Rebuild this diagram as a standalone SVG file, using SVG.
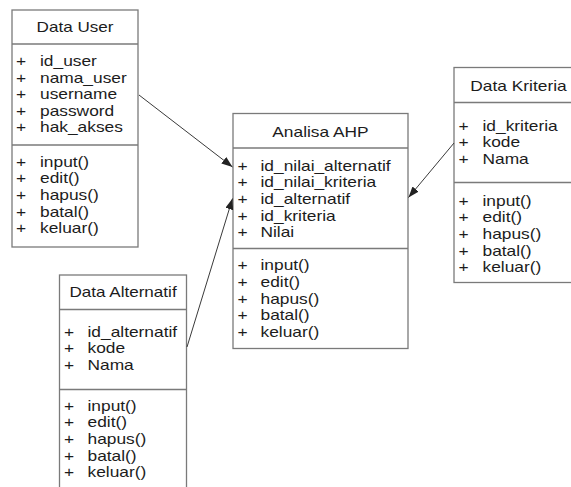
<svg xmlns="http://www.w3.org/2000/svg" width="571" height="487" viewBox="0 0 571 487">
  <style>
    .box { fill: #ffffff; stroke: #7a7a7a; stroke-width: 1.3; }
    .sep { stroke: #7a7a7a; stroke-width: 1.3; }
    text { font-family: "Liberation Sans", Arial, sans-serif; font-size: 14px; fill: #1c1c1c; }
    .title { text-anchor: middle; }
    .link { stroke: #3a3a3a; stroke-width: 1; fill: none; marker-end: url(#arrow); }
  </style>
  <defs>
    <marker id="arrow" markerUnits="userSpaceOnUse" markerWidth="12" markerHeight="10" refX="11" refY="4" orient="auto">
      <path d="M0,0 L11,4 L0,8 Z" fill="#222222"/>
    </marker>
  </defs>
  <rect width="571" height="487" fill="#ffffff"/>

  <!-- class: Data User -->
  <g id="data-user">
    <rect class="box" x="12" y="10" width="126" height="237"/>
    <line class="sep" x1="12" y1="44" x2="138" y2="44"/>
    <line class="sep" x1="12" y1="145" x2="138" y2="145"/>
    <text class="title" transform="matrix(1.22 0 0 1 75 32)">Data User</text>
    <text transform="matrix(1.24 0 0 1 16 66)">+</text><text transform="matrix(1.24 0 0 1 40 66)">id_user</text>
    <text transform="matrix(1.24 0 0 1 16 82.6)">+</text><text transform="matrix(1.24 0 0 1 40 82.6)">nama_user</text>
    <text transform="matrix(1.24 0 0 1 16 99.2)">+</text><text transform="matrix(1.24 0 0 1 40 99.2)">username</text>
    <text transform="matrix(1.24 0 0 1 16 115.8)">+</text><text transform="matrix(1.24 0 0 1 40 115.8)">password</text>
    <text transform="matrix(1.24 0 0 1 16 132.4)">+</text><text transform="matrix(1.24 0 0 1 40 132.4)">hak_akses</text>
    <text transform="matrix(1.24 0 0 1 16 166.7)">+</text><text transform="matrix(1.24 0 0 1 40 166.7)">input()</text>
    <text transform="matrix(1.24 0 0 1 16 183.3)">+</text><text transform="matrix(1.24 0 0 1 40 183.3)">edit()</text>
    <text transform="matrix(1.24 0 0 1 16 199.9)">+</text><text transform="matrix(1.24 0 0 1 40 199.9)">hapus()</text>
    <text transform="matrix(1.24 0 0 1 16 216.5)">+</text><text transform="matrix(1.24 0 0 1 40 216.5)">batal()</text>
    <text transform="matrix(1.24 0 0 1 16 233.1)">+</text><text transform="matrix(1.24 0 0 1 40 233.1)">keluar()</text>
  </g>

  <!-- class: Analisa AHP -->
  <g id="analisa-ahp">
    <rect class="box" x="233" y="113.5" width="175" height="235"/>
    <line class="sep" x1="233" y1="148" x2="408" y2="148"/>
    <line class="sep" x1="233" y1="248.5" x2="408" y2="248.5"/>
    <text class="title" transform="matrix(1.24 0 0 1 320.5 136.5)">Analisa AHP</text>
    <text transform="matrix(1.24 0 0 1 237.5 170.7)">+</text><text transform="matrix(1.24 0 0 1 260.5 170.7)">id_nilai_alternatif</text>
    <text transform="matrix(1.24 0 0 1 237.5 187.3)">+</text><text transform="matrix(1.24 0 0 1 260.5 187.3)">id_nilai_kriteria</text>
    <text transform="matrix(1.24 0 0 1 237.5 203.9)">+</text><text transform="matrix(1.24 0 0 1 260.5 203.9)">id_alternatif</text>
    <text transform="matrix(1.24 0 0 1 237.5 220.5)">+</text><text transform="matrix(1.24 0 0 1 260.5 220.5)">id_kriteria</text>
    <text transform="matrix(1.24 0 0 1 237.5 237.1)">+</text><text transform="matrix(1.24 0 0 1 260.5 237.1)">Nilai</text>
    <text transform="matrix(1.24 0 0 1 237.5 270.3)">+</text><text transform="matrix(1.24 0 0 1 260.5 270.3)">input()</text>
    <text transform="matrix(1.24 0 0 1 237.5 286.9)">+</text><text transform="matrix(1.24 0 0 1 260.5 286.9)">edit()</text>
    <text transform="matrix(1.24 0 0 1 237.5 303.5)">+</text><text transform="matrix(1.24 0 0 1 260.5 303.5)">hapus()</text>
    <text transform="matrix(1.24 0 0 1 237.5 320.1)">+</text><text transform="matrix(1.24 0 0 1 260.5 320.1)">batal()</text>
    <text transform="matrix(1.24 0 0 1 237.5 336.7)">+</text><text transform="matrix(1.24 0 0 1 260.5 336.7)">keluar()</text>
  </g>

  <!-- class: Data Kriteria -->
  <g id="data-kriteria">
    <rect class="box" x="454" y="67.5" width="130" height="215"/>
    <line class="sep" x1="454" y1="102.5" x2="584" y2="102.5"/>
    <line class="sep" x1="454" y1="182.5" x2="584" y2="182.5"/>
    <text class="title" transform="matrix(1.24 0 0 1 518.5 90.7)">Data Kriteria</text>
    <text transform="matrix(1.24 0 0 1 458.5 130.7)">+</text><text transform="matrix(1.24 0 0 1 482.5 130.7)">id_kriteria</text>
    <text transform="matrix(1.24 0 0 1 458.5 147.3)">+</text><text transform="matrix(1.24 0 0 1 482.5 147.3)">kode</text>
    <text transform="matrix(1.24 0 0 1 458.5 163.9)">+</text><text transform="matrix(1.24 0 0 1 482.5 163.9)">Nama</text>
    <text transform="matrix(1.24 0 0 1 458.5 205.7)">+</text><text transform="matrix(1.24 0 0 1 482.5 205.7)">input()</text>
    <text transform="matrix(1.24 0 0 1 458.5 222.3)">+</text><text transform="matrix(1.24 0 0 1 482.5 222.3)">edit()</text>
    <text transform="matrix(1.24 0 0 1 458.5 238.9)">+</text><text transform="matrix(1.24 0 0 1 482.5 238.9)">hapus()</text>
    <text transform="matrix(1.24 0 0 1 458.5 255.5)">+</text><text transform="matrix(1.24 0 0 1 482.5 255.5)">batal()</text>
    <text transform="matrix(1.24 0 0 1 458.5 272.1)">+</text><text transform="matrix(1.24 0 0 1 482.5 272.1)">keluar()</text>
  </g>

  <!-- class: Data Alternatif -->
  <g id="data-alternatif">
    <rect class="box" x="59.5" y="275" width="127" height="230"/>
    <line class="sep" x1="59.5" y1="309.5" x2="186.5" y2="309.5"/>
    <line class="sep" x1="59.5" y1="389.5" x2="186.5" y2="389.5"/>
    <text class="title" transform="matrix(1.22 0 0 1 123 297.3)">Data Alternatif</text>
    <text transform="matrix(1.24 0 0 1 64 336.7)">+</text><text transform="matrix(1.24 0 0 1 87.5 336.7)">id_alternatif</text>
    <text transform="matrix(1.24 0 0 1 64 353.3)">+</text><text transform="matrix(1.24 0 0 1 87.5 353.3)">kode</text>
    <text transform="matrix(1.24 0 0 1 64 369.9)">+</text><text transform="matrix(1.24 0 0 1 87.5 369.9)">Nama</text>
    <text transform="matrix(1.24 0 0 1 64 410.7)">+</text><text transform="matrix(1.24 0 0 1 87.5 410.7)">input()</text>
    <text transform="matrix(1.24 0 0 1 64 427.3)">+</text><text transform="matrix(1.24 0 0 1 87.5 427.3)">edit()</text>
    <text transform="matrix(1.24 0 0 1 64 443.9)">+</text><text transform="matrix(1.24 0 0 1 87.5 443.9)">hapus()</text>
    <text transform="matrix(1.24 0 0 1 64 460.5)">+</text><text transform="matrix(1.24 0 0 1 87.5 460.5)">batal()</text>
    <text transform="matrix(1.24 0 0 1 64 477.1)">+</text><text transform="matrix(1.24 0 0 1 87.5 477.1)">keluar()</text>
  </g>

  <!-- associations into Analisa AHP -->
  <g id="connectors">
    <line class="link" x1="139" y1="95" x2="232.5" y2="167"/>
    <line class="link" x1="187" y1="347" x2="232.5" y2="198.5"/>
    <line class="link" x1="454" y1="143" x2="408.5" y2="197.5"/>
  </g>
</svg>
